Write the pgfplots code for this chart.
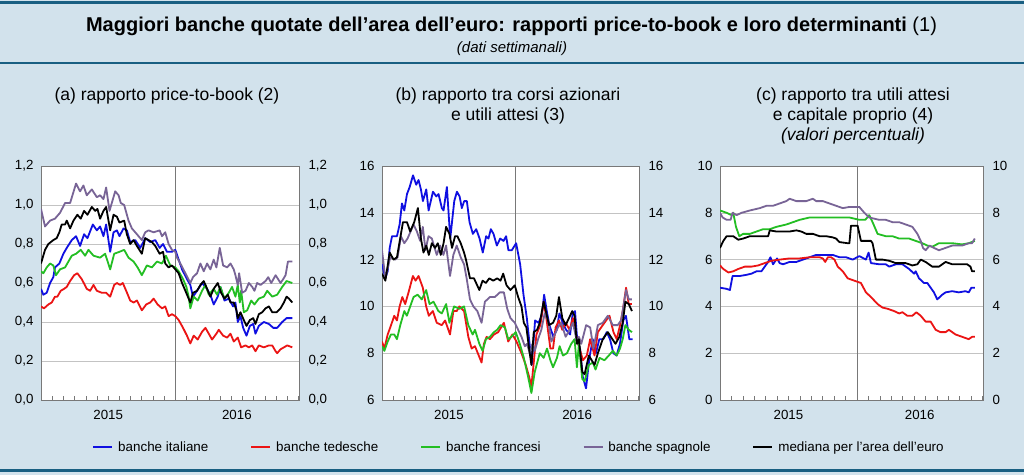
\documentclass[border=0pt]{standalone}
\usepackage{fontspec}
\setmainfont{Liberation Sans}
\usepackage{pgfplots}
\pgfplotsset{compat=1.18}
\definecolor{bg}{RGB}{210,226,236}
\definecolor{rulec}{RGB}{25,95,130}
\definecolor{cBlue}{RGB}{15,15,225}
\definecolor{cRed}{RGB}{235,20,20}
\definecolor{cGreen}{RGB}{35,190,35}
\definecolor{cPurple}{RGB}{120,100,150}
\definecolor{gridc}{RGB}{195,195,195}
\definecolor{framec}{RGB}{120,120,120}
\pgfplotsset{
  panel/.style={
    scale only axis, height=234pt, xmin=0, xmax=23.05,
    axis background/.style={fill=white},
    axis line style={framec, line width=0.7pt},
    xtick={6,17.5}, xticklabels={2015,2016},
    minor xtick={1,2,3,4,5,6,7,8,9,10,11,13,14,15,16,17,18,19,20,21,22,23},
    minor x tick style={framec, line width=0.5pt},
    major tick length=0pt, minor tick length=4pt,
    xtick pos=left, ytick pos=left, tick align=inside,
    ytick style={draw=none},
    extra x ticks={12}, extra x tick labels={},
    extra x tick style={grid=major, major grid style={framec, line width=0.7pt}},
    ymajorgrids, major grid style={gridc, line width=0.6pt},
    tick label style={font=\fontsize{13.3}{15}\selectfont},
    /pgf/number format/assume math mode=true,
    xticklabel style={yshift=-7pt},
    yticklabel style={xshift=-4pt},
    every axis plot/.append style={line width=1.8pt, line join=round, mark=none},
  },
  rightlab/.style={
    scale only axis, height=234pt, xmin=0, xmax=23.05,
    axis x line=none, axis y line*=right,
    y axis line style={draw=none}, ytick style={draw=none},
    major tick length=0pt,
    tick label style={font=\fontsize{13.3}{15}\selectfont},
    /pgf/number format/assume math mode=true,
    yticklabel style={xshift=6pt},
  },
}
\begin{document}
\begin{tikzpicture}[x=1pt,y=1pt]
\useasboundingbox (0,0) rectangle (1024,475);
\fill[bg] (0,0) rectangle (1024,475);
\fill[rulec] (0,471) rectangle (1024,473.5);
\fill[rulec] (0,411) rectangle (1024,413);
\fill[rulec] (0,3) rectangle (1024,6);
\node[anchor=base, inner sep=0pt, font=\fontsize{20}{24}\selectfont] at (511.5,443) {\textbf{Maggiori banche quotate dell’area dell’euro: rapporti price-to-book e loro determinanti} (1)};
\node[anchor=base, inner sep=0pt, font=\fontsize{15}{18}\selectfont\itshape] at (512,422) {(dati settimanali)};
\begin{scope}[every node/.style={anchor=base, inner sep=0pt, font=\fontsize{17.5}{20}\selectfont}]
\node at (167,375) {(a) rapporto price-to-book (2)};
\node at (508,375) {(b) rapporto tra corsi azionari};
\node at (508,355) {e utili attesi (3)};
\node at (853,375) {(c) rapporto tra utili attesi};
\node at (853,355) {e capitale proprio (4)};
\node[font=\fontsize{17.5}{20}\selectfont\itshape] at (853,335) {(valori percentuali)};
\end{scope}

% ---------------- panel (a)
\begin{axis}[panel, at={(41pt,75pt)}, anchor=south west, width=258pt,
  ymin=0, ymax=1.2, ytick={0,0.2,0.4,0.6,0.8,1.0,1.2},
  yticklabel style={/pgf/number format/.cd, fixed, fixed zerofill, precision=1, use comma},
  legend style={at={(axis description cs:1.853,-0.2009)}, anchor=center, draw=none, fill=none,
    font=\fontsize{13.4}{16}\selectfont, legend columns=5,
    /tikz/every odd column/.append style={column sep=3pt},
    /tikz/every even column/.append style={column sep=40pt}},
  legend cell align=left,
  legend image code/.code={\draw[#1, line width=1.8pt] (0pt,0pt) -- (19pt,0pt);},
]
\addplot[cBlue] coordinates {(0,0.57) (0.21,0.54) (0.51,0.55) (0.81,0.60) (1.10,0.63) (1.25,0.68) (1.64,0.70) (2.00,0.75) (2.30,0.78) (2.75,0.82) (3.13,0.84) (3.49,0.79) (3.85,0.85) (4.15,0.83) (4.63,0.90) (4.99,0.87) (5.28,0.89) (5.58,0.84) (5.82,0.90) (6.18,0.76) (6.48,0.86) (6.78,0.87) (7.01,0.84) (7.37,0.88) (7.67,0.87) (7.97,0.81) (8.42,0.82) (8.87,0.78) (9.31,0.83) (9.76,0.81) (10.21,0.82) (10.60,0.78) (10.90,0.80) (11.25,0.76) (11.70,0.76) (12.00,0.77) (12.30,0.72) (12.60,0.67) (13.04,0.62) (13.34,0.59) (13.58,0.53) (13.94,0.56) (14.39,0.60) (14.84,0.57) (15.19,0.53) (15.43,0.49) (15.79,0.53) (16.03,0.58) (16.39,0.51) (16.78,0.52) (17.16,0.48) (17.37,0.50) (17.58,0.40) (17.82,0.43) (18.06,0.37) (18.36,0.33) (18.66,0.38) (18.96,0.39) (19.16,0.34) (19.46,0.38) (19.91,0.40) (20.36,0.39) (20.75,0.37) (21.10,0.37) (21.55,0.40) (21.94,0.42) (22.45,0.42)};
\addlegendentry{banche italiane}
\addplot[cRed] coordinates {(0,0.48) (0.27,0.47) (0.66,0.49) (0.96,0.50) (1.25,0.53) (1.46,0.53) (1.76,0.56) (2.06,0.57) (2.30,0.58) (2.60,0.61) (2.96,0.64) (3.25,0.65) (3.64,0.62) (4.09,0.57) (4.39,0.56) (4.69,0.59) (4.99,0.56) (5.43,0.55) (5.82,0.55) (6.18,0.53) (6.54,0.59) (6.78,0.60) (7.07,0.59) (7.31,0.60) (7.61,0.56) (7.97,0.51) (8.27,0.50) (8.57,0.51) (9.01,0.46) (9.40,0.49) (9.76,0.50) (10.06,0.52) (10.42,0.49) (10.81,0.47) (11.10,0.48) (11.40,0.43) (11.70,0.44) (12.00,0.43) (12.30,0.41) (12.69,0.37) (13.04,0.33) (13.34,0.29) (13.64,0.33) (14.00,0.31) (14.39,0.35) (14.69,0.37) (14.99,0.34) (15.28,0.31) (15.67,0.34) (15.88,0.36) (16.27,0.33) (16.63,0.32) (16.93,0.34) (17.22,0.30) (17.58,0.32) (17.88,0.27) (18.27,0.28) (18.57,0.27) (18.87,0.28) (19.16,0.25) (19.46,0.28) (19.91,0.27) (20.36,0.28) (20.66,0.28) (20.96,0.25) (21.10,0.24) (21.40,0.26) (21.70,0.27) (22.00,0.28) (22.45,0.27)};
\addlegendentry{banche tedesche}
\addplot[cGreen] coordinates {(0,0.66) (0.21,0.65) (0.51,0.68) (0.81,0.70) (1.10,0.69) (1.34,0.64) (1.70,0.67) (2.15,0.68) (2.45,0.71) (2.75,0.74) (3.13,0.75) (3.55,0.77) (3.94,0.74) (4.24,0.77) (4.69,0.74) (5.28,0.73) (5.73,0.75) (6.18,0.67) (6.54,0.75) (7.01,0.76) (7.43,0.77) (7.82,0.73) (8.27,0.71) (8.63,0.68) (9.01,0.64) (9.46,0.69) (9.91,0.68) (10.36,0.71) (10.81,0.70) (11.16,0.74) (11.55,0.69) (12.00,0.68) (12.30,0.66) (12.69,0.62) (12.99,0.58) (13.19,0.53) (13.34,0.47) (13.64,0.53) (14.00,0.51) (14.39,0.56) (14.69,0.59) (14.99,0.54) (15.43,0.57) (15.73,0.54) (16.03,0.58) (16.39,0.52) (16.78,0.55) (17.07,0.58) (17.37,0.53) (17.58,0.59) (17.76,0.50) (17.88,0.56) (18.12,0.45) (18.42,0.46) (18.78,0.51) (19.07,0.49) (19.46,0.52) (19.91,0.53) (20.21,0.56) (20.66,0.53) (21.10,0.54) (21.55,0.58) (21.94,0.61) (22.45,0.60)};
\addlegendentry{banche francesi}
\addplot[cPurple] coordinates {(0,0.98) (0.36,0.89) (0.81,0.92) (1.25,0.93) (1.70,0.96) (2.15,1.01) (2.60,1.01) (3.13,1.11) (3.49,1.07) (3.79,1.10) (4.09,1.05) (4.54,1.08) (4.99,1.04) (5.28,1.05) (5.58,1.03) (5.82,1.09) (6.12,0.97) (6.63,1.07) (6.93,1.05) (7.13,1.01) (7.43,1.00) (7.82,0.92) (8.12,0.88) (8.57,0.85) (9.01,0.82) (9.31,0.86) (9.61,0.87) (10.06,0.86) (10.60,0.87) (10.81,0.84) (11.10,0.86) (11.40,0.80) (11.70,0.77) (12.00,0.76) (12.15,0.73) (12.45,0.70) (12.90,0.65) (13.34,0.60) (13.58,0.63) (13.94,0.65) (14.24,0.70) (14.54,0.66) (14.84,0.70) (15.13,0.67) (15.43,0.72) (15.67,0.68) (15.97,0.78) (16.27,0.69) (16.63,0.68) (16.93,0.70) (17.22,0.67) (17.37,0.64) (17.58,0.59) (17.70,0.65) (17.97,0.55) (18.27,0.56) (18.57,0.60) (18.87,0.58) (19.07,0.56) (19.31,0.60) (19.61,0.59) (20.06,0.61) (20.30,0.63) (20.57,0.60) (20.96,0.64) (21.40,0.60) (21.64,0.62) (21.85,0.64) (22.06,0.71) (22.45,0.71)};
\addlegendentry{banche spagnole}
\addplot[black] coordinates {(0,0.70) (0.36,0.77) (0.66,0.80) (1.10,0.82) (1.40,0.83) (1.64,0.86) (1.85,0.90) (2.15,0.90) (2.30,0.92) (2.60,0.88) (2.90,0.92) (3.25,0.95) (3.55,0.93) (3.85,0.97) (4.15,0.95) (4.54,0.99) (4.84,0.97) (5.04,0.98) (5.28,0.93) (5.58,0.97) (5.82,0.99) (6.18,0.87) (6.48,0.95) (6.78,0.94) (7.01,0.91) (7.43,0.92) (7.67,0.85) (7.97,0.80) (8.27,0.82) (8.57,0.79) (9.01,0.75) (9.31,0.83) (9.61,0.82) (9.91,0.81) (10.21,0.79) (10.60,0.75) (10.90,0.76) (11.10,0.70) (11.40,0.68) (11.70,0.69) (12.00,0.67) (12.30,0.65) (12.60,0.60) (12.90,0.56) (13.19,0.52) (13.34,0.50) (13.58,0.55) (13.94,0.56) (14.24,0.59) (14.54,0.61) (14.84,0.57) (15.13,0.53) (15.43,0.57) (15.79,0.60) (16.09,0.55) (16.39,0.52) (16.69,0.54) (16.93,0.50) (17.22,0.50) (17.46,0.46) (17.58,0.42) (17.82,0.45) (18.12,0.41) (18.36,0.38) (18.66,0.41) (18.96,0.42) (19.16,0.39) (19.46,0.44) (19.76,0.45) (20.06,0.47) (20.36,0.48) (20.66,0.45) (21.04,0.45) (21.40,0.47) (21.70,0.50) (21.94,0.53) (22.15,0.52) (22.45,0.50)};
\addlegendentry{mediana per l'area dell'euro}
\end{axis}
\begin{axis}[rightlab, at={(41pt,75pt)}, anchor=south west, width=258pt,
  ymin=0, ymax=1.2, ytick={0,0.2,0.4,0.6,0.8,1.0,1.2},
  yticklabel style={/pgf/number format/.cd, fixed, fixed zerofill, precision=1, use comma}]
\addplot[draw=none] coordinates {(0,0)};
\end{axis}

% ---------------- panel (b)
\begin{axis}[panel, at={(382pt,75pt)}, anchor=south west, width=257pt,
  ymin=6, ymax=16, ytick={6,8,10,12,14,16}]
\addplot[cBlue] coordinates {(0,11.8) (0.30,11.2) (0.51,11.5) (0.69,12.5) (0.90,13.0) (1.34,13.0) (1.58,13.5) (1.79,14.4) (2.00,14.1) (2.24,14.8) (2.48,15.1) (2.78,15.6) (3.07,15.2) (3.28,15.4) (3.49,15.0) (3.67,14.5) (3.97,15.0) (4.18,14.1) (4.57,14.9) (4.87,14.7) (5.07,14.8) (5.37,14.2) (5.52,14.1) (5.82,15.1) (6.12,12.9) (6.48,14.5) (6.72,14.9) (6.96,14.7) (7.16,14.2) (7.37,14.5) (7.61,14.5) (7.85,13.6) (8.15,13.1) (8.45,13.3) (8.75,12.9) (9.04,12.3) (9.34,13.0) (9.55,12.9) (9.76,13.3) (10.00,13.1) (10.30,12.6) (10.60,12.9) (10.90,12.8) (11.13,13.0) (11.34,12.4) (11.64,12.4) (12.03,12.7) (12.39,11.8) (12.69,10.5) (12.99,9.5) (13.28,8.2) (13.43,7.5) (13.73,9.4) (14.03,9.3) (14.33,9.6) (14.54,10.5) (14.78,9.8) (15.01,9.2) (15.37,8.7) (15.67,9.0) (15.91,9.7) (16.21,9.3) (16.51,9.0) (16.87,8.8) (17.10,9.7) (17.31,9.8) (17.52,8.5) (17.76,8.2) (18.00,7.0) (18.30,6.5) (18.60,7.8) (18.90,8.6) (19.19,8.0) (19.49,8.6) (19.85,8.6) (20.15,8.9) (20.45,8.6) (20.75,8.0) (21.04,7.9) (21.34,8.4) (21.64,9.4) (21.88,9.6) (22.18,8.6) (22.48,8.6)};
\addplot[cRed] coordinates {(0,8.5) (0.21,8.2) (0.51,8.8) (0.74,9.1) (1.10,9.6) (1.34,9.4) (1.58,10.0) (1.82,10.4) (2.08,10.1) (2.38,10.6) (2.77,11.3) (3.01,11.1) (3.28,11.3) (3.66,10.8) (3.96,10.0) (4.20,9.6) (4.56,9.8) (4.91,9.3) (5.36,9.2) (5.66,9.4) (6.10,8.8) (6.40,9.8) (6.70,9.8) (6.94,10.0) (7.36,9.8) (7.74,8.7) (8.04,8.2) (8.34,8.3) (8.93,7.6) (9.14,8.4) (9.38,8.7) (9.68,8.6) (10.04,8.8) (10.42,8.9) (10.93,9.3) (11.32,8.5) (11.70,8.8) (12.06,8.5) (12.51,8.0) (12.89,7.5) (13.19,7.0) (13.40,6.6) (13.61,7.6) (13.85,8.8) (14.20,9.2) (14.50,10.2) (14.74,9.5) (15.10,8.2) (15.34,8.2) (15.57,9.1) (15.87,9.4) (16.17,9.0) (16.47,9.3) (16.83,9.0) (17.12,9.5) (17.48,8.6) (17.66,8.3) (18.02,7.7) (18.37,7.9) (18.67,8.6) (19.06,7.9) (19.36,8.9) (19.80,9.2) (20.10,9.4) (20.40,9.6) (20.76,8.9) (21.05,8.6) (21.35,9.2) (21.59,9.8) (21.89,10.8) (22.13,10.1) (22.42,10.1)};
\addplot[cGreen] coordinates {(0,8.3) (0.21,8.1) (0.51,8.5) (0.80,8.8) (1.10,8.8) (1.34,8.6) (1.64,9.2) (2.00,9.8) (2.23,9.6) (2.53,10.0) (2.83,10.4) (3.19,10.5) (3.57,10.3) (3.96,10.7) (4.26,10.1) (4.62,10.2) (5.06,9.8) (5.36,9.7) (5.75,10.1) (6.05,9.3) (6.46,10.0) (6.94,9.9) (7.36,10.0) (7.74,9.2) (8.13,8.8) (8.34,9.0) (8.73,8.4) (9.02,8.1) (9.32,8.6) (9.68,8.7) (10.04,8.9) (10.33,9.0) (10.63,9.2) (11.02,9.1) (11.32,8.6) (11.61,8.7) (12.00,8.9) (12.36,8.4) (12.72,7.8) (13.10,7.0) (13.40,6.3) (13.70,7.2) (14.15,8.0) (14.50,7.8) (14.80,8.2) (15.10,7.7) (15.34,7.4) (15.69,7.8) (15.93,8.3) (16.23,7.9) (16.59,8.0) (16.97,8.4) (17.27,8.6) (17.48,7.4) (17.66,8.4) (17.96,6.9) (18.17,6.8) (18.55,7.5) (18.91,7.6) (19.15,7.3) (19.51,7.8) (19.95,7.7) (20.34,7.9) (20.70,8.1) (21.05,7.9) (21.35,8.2) (21.59,8.6) (21.83,9.2) (22.13,9.0) (22.42,8.9)};
\addplot[cPurple] coordinates {(0,12.4) (0.30,11.2) (0.74,12.1) (1.19,12.0) (1.40,12.1) (1.70,13.0) (2.00,12.7) (2.29,12.9) (2.83,13.5) (3.13,13.2) (3.42,12.8) (3.66,13.4) (3.90,12.4) (4.17,13.0) (4.47,12.9) (4.91,12.2) (5.21,12.6) (5.51,12.2) (5.75,12.6) (6.10,11.3) (6.40,12.2) (6.70,12.6) (7.06,12.1) (7.36,11.8) (7.59,11.2) (7.89,10.3) (8.19,10.0) (8.55,9.8) (8.93,9.3) (9.23,10.2) (9.68,10.4) (10.12,10.4) (10.57,10.6) (10.93,10.6) (11.23,9.9) (11.52,9.5) (11.91,9.3) (12.21,9.0) (12.51,8.7) (12.81,8.3) (13.01,8.4) (13.25,8.0) (13.49,8.4) (13.70,8.1) (14.00,8.6) (14.29,9.0) (14.59,9.7) (14.89,9.4) (15.19,8.5) (15.49,8.8) (15.78,9.1) (16.08,9.3) (16.47,8.7) (16.83,9.0) (17.12,9.3) (17.48,8.5) (17.66,8.7) (17.87,8.4) (18.31,9.2) (18.67,9.1) (18.97,8.2) (19.36,9.2) (19.80,9.3) (20.25,9.6) (20.70,9.2) (21.14,9.2) (21.44,9.4) (21.65,10.0) (21.89,10.7) (22.13,10.3) (22.42,10.3)};
\addplot[black] coordinates {(0,11.4) (0.30,11.1) (0.69,12.3) (1.04,12.0) (1.34,12.1) (1.88,13.6) (2.24,13.6) (2.53,13.2) (2.89,13.6) (3.22,14.2) (3.49,12.9) (3.72,12.3) (3.97,12.6) (4.20,12.2) (4.47,12.7) (4.76,12.5) (5.00,12.7) (5.27,12.2) (5.52,12.7) (5.75,13.4) (6.05,13.1) (6.28,12.5) (6.55,13.0) (6.76,13.0) (7.06,12.7) (7.36,12.3) (7.53,12.0) (7.89,11.2) (8.25,11.2) (8.73,10.7) (9.02,11.1) (9.32,11.0) (9.62,11.2) (9.98,11.1) (10.33,11.2) (10.63,11.1) (10.87,11.4) (11.17,10.9) (11.52,10.7) (11.91,10.9) (12.21,10.4) (12.51,10.0) (12.72,9.3) (12.95,9.1) (13.19,8.2) (13.40,7.5) (13.61,8.9) (13.91,9.0) (14.15,9.3) (14.50,10.2) (14.74,9.7) (14.98,9.2) (15.34,9.3) (15.63,9.6) (15.87,10.4) (16.17,9.5) (16.47,9.2) (16.77,9.5) (17.06,9.8) (17.27,9.6) (17.48,8.4) (17.66,8.6) (17.96,7.2) (18.17,7.1) (18.55,7.9) (19.06,7.5) (19.36,8.0) (19.80,8.6) (20.25,8.9) (20.94,8.4) (21.29,8.7) (21.59,9.3) (21.83,10.2) (22.13,10.1) (22.42,9.8)};
\end{axis}
\begin{axis}[rightlab, at={(382pt,75pt)}, anchor=south west, width=257pt,
  ymin=6, ymax=16, ytick={6,8,10,12,14,16}]
\addplot[draw=none] coordinates {(0,6)};
\end{axis}

% ---------------- panel (c)
\begin{axis}[panel, at={(720pt,75pt)}, anchor=south west, width=263pt,
  ymin=0, ymax=10, ytick={0,2,4,6,8,10}]
\addplot[cBlue] coordinates {(0,4.8) (0.58,4.75) (0.87,4.7) (1.10,5.3) (1.74,5.3) (2.33,5.35) (2.76,5.4) (3.20,5.5) (3.63,5.5) (3.92,5.7) (4.22,5.9) (4.42,6.1) (4.65,5.8) (5.00,6.05) (5.23,5.85) (5.52,5.8) (6.10,5.9) (6.69,5.9) (7.27,6.0) (7.85,6.1) (8.43,6.2) (9.30,6.2) (9.88,6.2) (10.47,6.1) (11.05,6.1) (11.63,6.0) (12.21,6.15) (12.79,6.0) (13.02,6.3) (13.23,5.85) (13.95,5.8) (14.53,5.8) (14.83,5.7) (15.41,5.8) (15.99,5.8) (16.57,5.6) (17.01,5.4) (17.15,5.5) (17.44,5.2) (17.88,5.0) (18.17,5.0) (18.46,4.8) (18.75,4.6) (19.04,4.3) (19.48,4.5) (19.77,4.6) (20.35,4.65) (20.93,4.6) (21.51,4.65) (21.80,4.6) (22.03,4.8) (22.33,4.8)};
\addplot[cRed] coordinates {(0,5.75) (0.29,5.6) (0.73,5.45) (1.16,5.5) (1.60,5.6) (2.18,5.7) (2.76,5.7) (3.34,5.75) (3.92,5.85) (4.51,5.95) (5.23,6.0) (6.10,6.05) (6.98,6.05) (7.85,6.1) (8.72,6.1) (9.01,6.05) (9.22,5.9) (9.45,6.1) (9.74,6.1) (10.03,6.0) (10.32,5.7) (10.76,5.5) (11.19,5.2) (11.77,5.1) (12.06,5.05) (12.35,5.0) (12.79,4.6) (13.23,4.4) (13.81,4.1) (14.24,3.95) (14.68,3.9) (15.26,3.8) (15.70,3.7) (15.99,3.75) (16.42,3.6) (16.86,3.6) (17.21,3.75) (17.59,3.6) (18.02,3.35) (18.46,3.35) (18.90,3.0) (19.33,2.9) (19.77,2.9) (20.06,3.0) (20.64,2.8) (21.22,2.7) (21.80,2.6) (22.09,2.7) (22.33,2.7)};
\addplot[cGreen] coordinates {(0,8.1) (0.58,8.0) (1.02,7.9) (1.16,8.0) (1.40,7.4) (1.69,7.0) (2.03,7.1) (2.62,7.1) (3.20,7.2) (3.78,7.3) (4.36,7.3) (4.94,7.4) (5.81,7.5) (6.40,7.6) (6.98,7.7) (7.85,7.8) (8.72,7.8) (9.59,7.8) (10.76,7.8) (11.34,7.8) (12.21,7.7) (12.73,7.7) (13.08,7.9) (13.37,7.6) (13.81,7.1) (14.53,7.0) (15.12,7.0) (15.70,6.9) (16.57,6.9) (17.15,6.8) (17.73,6.7) (18.17,6.6) (18.60,6.55) (19.19,6.7) (20.35,6.7) (21.22,6.65) (21.80,6.7) (22.33,6.8)};
\addplot[cPurple] coordinates {(0,8.0) (0.23,7.8) (0.58,7.7) (0.93,7.7) (1.10,8.0) (1.45,7.9) (1.89,8.0) (2.62,8.1) (3.49,8.2) (4.07,8.3) (4.65,8.3) (5.23,8.4) (5.81,8.5) (6.10,8.6) (6.69,8.5) (7.56,8.5) (8.14,8.6) (8.43,8.5) (9.01,8.5) (9.59,8.4) (10.17,8.3) (10.76,8.2) (11.34,8.25) (12.21,8.25) (12.65,8.0) (13.08,7.8) (13.95,7.7) (14.53,7.7) (15.12,7.6) (15.70,7.6) (16.28,7.5) (16.86,7.4) (17.30,7.1) (17.59,6.8) (17.79,6.5) (18.02,6.4) (18.37,6.6) (18.75,6.5) (19.19,6.4) (19.77,6.5) (20.35,6.6) (21.22,6.6) (21.80,6.7) (22.09,6.7) (22.33,6.9)};
\addplot[black] coordinates {(0,6.5) (0.29,6.8) (0.58,7.0) (1.16,7.0) (1.60,6.85) (2.03,6.9) (2.62,7.0) (3.49,7.0) (4.22,7.0) (4.36,7.25) (4.94,7.2) (5.52,7.2) (6.10,7.2) (6.69,7.25) (7.12,7.2) (7.56,7.1) (8.14,7.1) (8.72,7.0) (9.30,7.0) (9.88,6.95) (10.17,6.9) (10.47,6.75) (11.19,6.7) (11.34,6.7) (11.48,7.45) (12.06,7.45) (12.35,6.8) (13.23,6.8) (13.37,6.7) (13.66,6.0) (14.24,6.0) (14.83,5.95) (15.41,5.85) (16.28,5.85) (16.86,5.75) (17.30,5.8) (17.59,6.0) (18.02,5.9) (18.60,5.7) (19.19,5.7) (19.77,5.9) (20.35,5.8) (21.22,5.8) (21.66,5.8) (21.95,5.7) (22.09,5.5) (22.33,5.5)};
\end{axis}
\begin{axis}[rightlab, at={(720pt,75pt)}, anchor=south west, width=263pt,
  ymin=0, ymax=10, ytick={0,2,4,6,8,10}]
\addplot[draw=none] coordinates {(0,0)};
\end{axis}
\end{tikzpicture}
\end{document}
